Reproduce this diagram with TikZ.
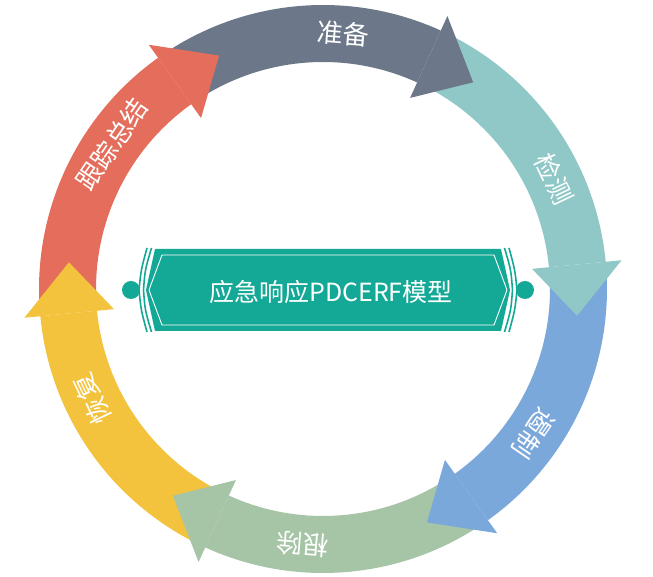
\documentclass[tikz,border=0pt]{standalone}
\usepackage{fontspec}
\newfontfamily\cjk{Noto Sans CJK SC}
\definecolor{cgray}{HTML}{6C7889}
\definecolor{cteal}{HTML}{8FC8C7}
\definecolor{cblue}{HTML}{7BA8DB}
\definecolor{cgreen}{HTML}{A6C4A6}
\definecolor{cyellow}{HTML}{F3C33D}
\definecolor{cred}{HTML}{E46D5B}
\definecolor{cbanner}{HTML}{14A996}
\begin{document}
\begin{tikzpicture}[x=1pt,y=1pt,
  lbl/.style={text=white, font=\cjk\fontsize{26}{26}\selectfont, inner sep=0pt},
  titletext/.style={text=white, font=\cjk\fontsize{25}{25}\selectfont, inner sep=0pt},
  deco/.style={draw=cbanner, line width=1.6pt}]
\useasboundingbox (-323,-288) rectangle (330,289);
\fill[white] (-323,-288) rectangle (330,289);
% arrow bodies
\foreach \b/\c in {65.5/cgray,5.5/cteal,-54.5/cblue,-114.5/cgreen,-174.5/cyellow,125.5/cred}{
  \fill[\c] ({\b+59}:284) arc[start angle={\b+59},end angle=\b,radius=284]
    -- (\b:227) arc[start angle=\b,end angle={\b+59},radius=227] -- cycle;
}
% arrow heads
\foreach \b/\c in {65.5/cgray,5.5/cteal,-54.5/cblue,-114.5/cgreen,-174.5/cyellow,125.5/cred}{
  \fill[\c] (\b:300) -- ({\b-11.5}:255.5) -- (\b:210) -- cycle;
}
% labels
\foreach \a/\t/\n in {85.5/准备/lp,25.5/检测/ld,-34.5/遏制/lc,-94.5/根除/le,-154.5/恢复/lr,145.5/跟踪总结/lf}{
  \node[lbl, rotate={\a-90}] (\n) at (\a:256) {\t};
}
% banner
\begin{scope}[shift={(5,-1)}]
  \fill[cbanner] (-173,41) .. controls (-178,20) .. (-182,0) .. controls (-178,-20) .. (-173,-41)
    -- (173,-41) .. controls (178,-20) .. (182,0) .. controls (178,20) .. (173,41) -- cycle;
  \draw[white, line width=0.9pt] (-166,35) -- (-179,0) -- (-166,-35) -- (166,-35) -- (179,0) -- (166,35) -- cycle;
  \foreach \s in {1,-1}{
    \begin{scope}[xscale=\s]
      \draw[deco] (-176.5,42) .. controls (-183,20) .. (-184.5,0) .. controls (-183,-20) .. (-176.5,-42);
      \draw[deco] (-181,42) .. controls (-187,20) .. (-189,0) .. controls (-187,-20) .. (-181,-42);
      \fill[cbanner] (-197,0) circle[radius=9];
    \end{scope}
  }
  \node[titletext] (title) at (3,-2) {应急响应PDCERF模型};
\end{scope}
\end{tikzpicture}
\end{document}
